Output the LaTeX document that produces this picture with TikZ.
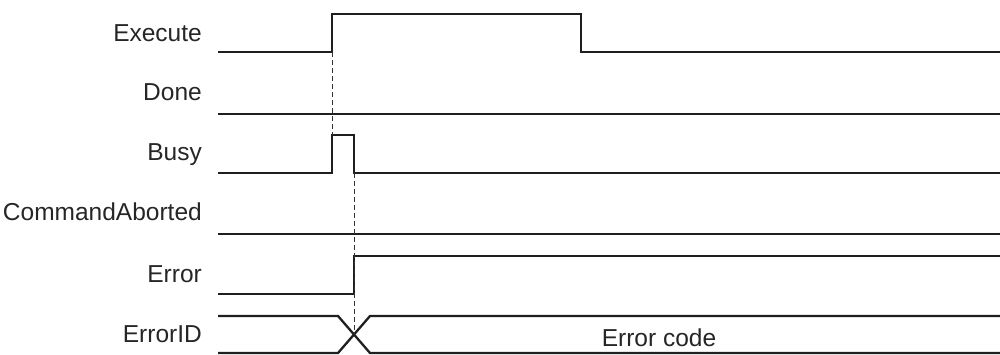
\documentclass[tikz,border=0pt]{standalone}
\usepackage{fontspec}
\setmainfont{Liberation Sans}
\usepackage{tikz}
\usetikzlibrary{positioning}

\begin{document}
\begin{tikzpicture}[
  x=1pt,y=-1pt,
  font=\fontsize{24.5}{29}\selectfont,
  lbl/.style  ={anchor=base east,inner sep=0pt,text=black!85},
  val/.style  ={anchor=base,inner sep=0pt,text=black!85},
  sig/.style  ={line width=2.3pt,black!88,line join=miter},
  guide/.style={line width=1pt,black!80,dash pattern=on 4.5pt off 3.5pt}]

\useasboundingbox (0,0) rectangle (1000,354);

% ---------- Signal names ----------
\node[lbl] (exe)  at (202,41)  {Execute};
\node[lbl] (done) at (202,100) {Done};
\node[lbl] (busy) at (202,160) {Busy};
\node[lbl] (cab)  at (202,220) {CommandAborted};
\node[lbl] (err)  at (202,282) {Error};
\node[lbl] (eid)  at (202,342) {ErrorID};

% ---------- Edges ----------
\coordinate (exeup)   at (332,52);
\coordinate (busyhi)  at (332,135);
\coordinate (busylo)  at (354,173);
\coordinate (cross)   at (354,335);

% ---------- Waveforms ----------
\draw[sig] (218,52) -- (exeup) -- (332,14) -- (581,14) -- (581,52) -- (1000,52);
\draw[sig] (218,114) -- (1000,114);
\draw[sig] (218,173) -- (332,173) -- (busyhi) -- (354,135) -- (busylo) -- (1000,173);
\draw[sig] (218,234) -- (1000,234);
\draw[sig] (218,294) -- (354,294) -- (354,256) -- (1000,256);

% ErrorID bus
\draw[sig] (218,316) -- (338,316) -- (370,353) -- (1000,353);
\draw[sig] (218,353) -- (338,353) -- (370,316) -- (1000,316);
\node[val] (code) at (659,346) {Error code};

% ---------- Guides ----------
\draw[guide] (exeup) -- (busyhi);
\draw[guide] (busylo) -- (cross);

\end{tikzpicture}
\end{document}
